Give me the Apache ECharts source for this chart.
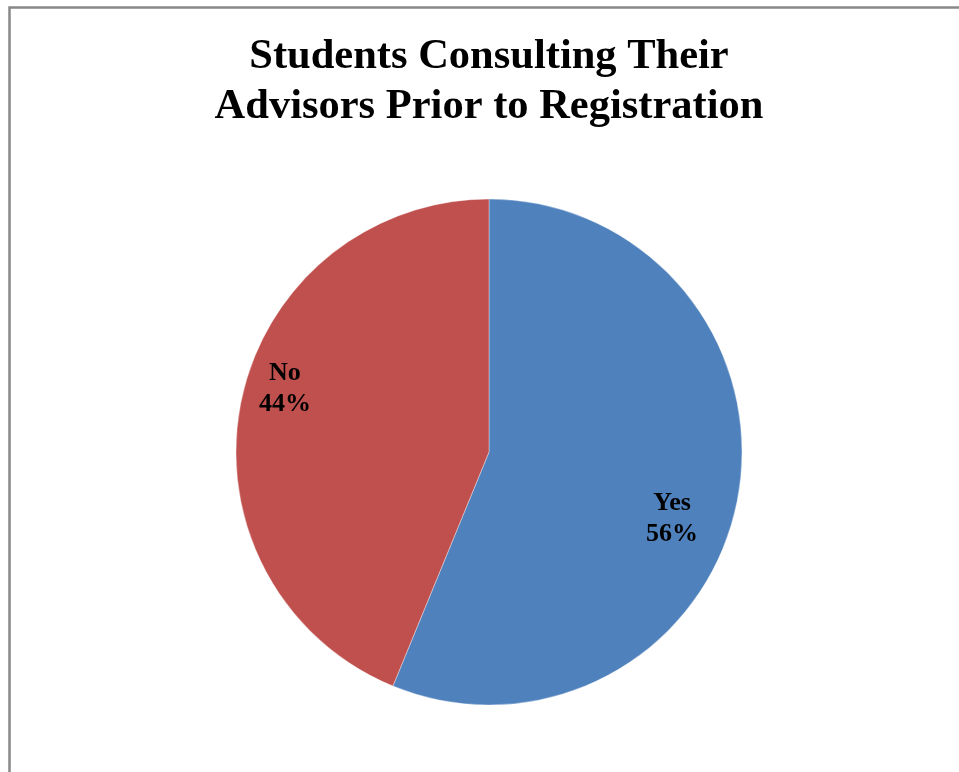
<!DOCTYPE html>
<html>
<head>
<meta charset="utf-8">
<script src="https://cdn.jsdelivr.net/npm/echarts@6/dist/echarts.min.js"></script>
<style>
html,body{margin:0;padding:0;background:#fff;}
#chart{width:959px;height:772px;}
</style>
</head>
<body>
<div id="chart"></div>
<script>
const titleText = 'Students Consulting Their\nAdvisors Prior to Registration';
const categories = ['Yes', 'No'];
const values = [56.2, 43.8];
const colors = ['#4F81BD', '#C0504D'];
const labelShift = [[56, 42], [-77, -38]];

const chart = echarts.init(document.getElementById('chart'), null, {renderer: 'canvas'});
chart.setOption({
  backgroundColor: '#ffffff',
  animation: false,
  graphic: [{
    type: 'text',
    x: 489,
    y: 32,
    silent: true,
    style: {
      text: titleText,
      fontFamily: 'Liberation Serif',
      fontWeight: 'bold',
      fontSize: 42.5,
      lineHeight: 50,
      align: 'center',
      verticalAlign: 'top',
      fill: '#000'
    }
  }, {
    type: 'rect',
    shape: {x: 9.5, y: 7.5, width: 1200, height: 1200},
    style: {fill: 'none', stroke: '#888888', lineWidth: 2.5},
    silent: true,
    z: 100
  }],
  series: [{
    type: 'pie',
    center: [489, 452],
    radius: 253,
    startAngle: 90,
    clockwise: true,
    data: categories.map((c, i) => ({name: c, value: values[i], itemStyle: {color: colors[i]}})),
    itemStyle: {borderColor: 'rgba(255,255,255,0.6)', borderWidth: 0.6},
    label: {
      show: true,
      position: 'inside',
      formatter: p => p.name + '\n' + Math.round(p.percent) + '%',
      fontFamily: 'Liberation Serif',
      fontWeight: 'bold',
      fontSize: 26,
      lineHeight: 31,
      color: '#000'
    },
    labelLine: {show: false},
    labelLayout: function (p) {
      const s = labelShift[p.dataIndex];
      return {dx: s[0], dy: s[1]};
    },
    emphasis: {disabled: true}
  }]
});
</script>
</body>
</html>
